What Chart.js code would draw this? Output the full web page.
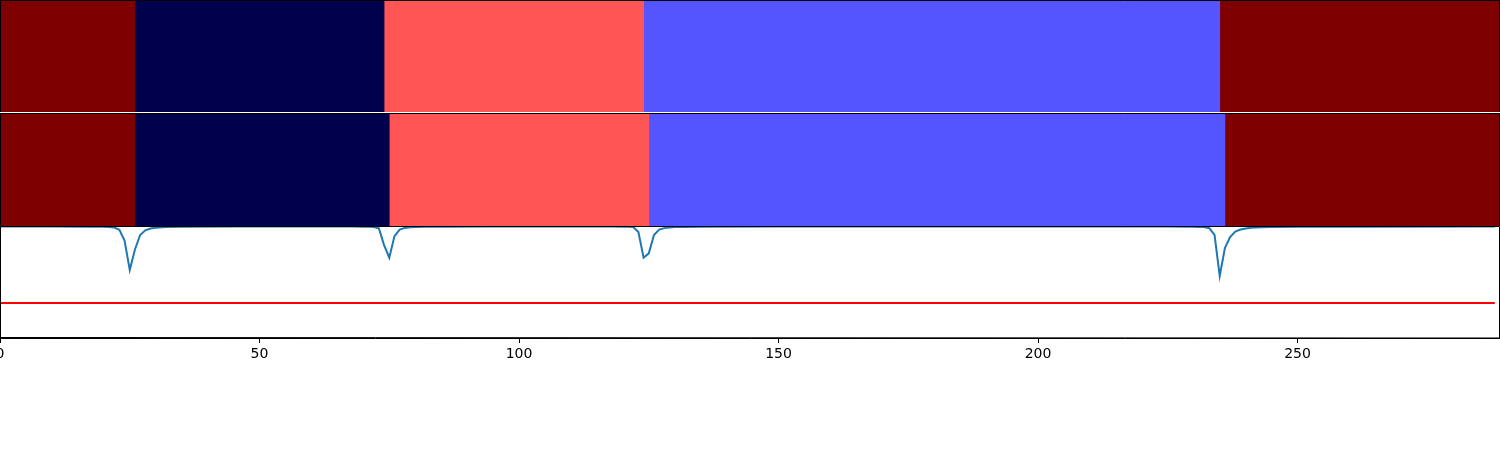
<!DOCTYPE html>
<html>
<head>
<meta charset="utf-8">
<script src="https://cdn.jsdelivr.net/npm/chart.js@4/dist/chart.umd.min.js"></script>
<style>
  html, body { margin:0; padding:0; background:#fff; overflow:hidden; }
  body { width:1500px; height:450px; position:relative; }
  .p { position:absolute; }
  canvas { display:block; }
</style>
</head>
<body>
<div class="p" style="left:0;top:0;width:1500px;height:112px"><canvas id="c1" width="1500" height="112"></canvas></div>
<div class="p" style="left:0;top:113px;width:1500px;height:113px"><canvas id="c2" width="1500" height="113"></canvas></div>
<div class="p" style="left:-50px;top:226px;width:1600px;height:224px"><canvas id="c3" width="1600" height="224"></canvas></div>
<script>
// ---- data ----
const xMax = 289;
const bkpsTrue = [0, 26, 74, 124, 235, 289];
const bkpsPred = [0, 26, 75, 125, 236, 289];
const segColors = ['#7f0000', '#00004c', '#ff5555', '#5555ff', '#7f0000'];

const scoreX = [0, 10, 18, 20, 21, 22, 23, 24, 25, 26, 27, 28, 29, 30, 32, 35, 45,
  60, 68, 70, 71, 72, 73, 74, 75, 76, 77, 78, 79, 80, 82, 85, 95,
  110, 118, 120, 121, 122, 123, 124, 125, 126, 127, 128, 129, 130, 132, 135, 150,
  200, 225, 229, 230, 231, 232, 233, 234, 235, 236, 237, 238, 239, 240, 241, 242, 243, 245, 250, 260, 288];
const scoreY = [0.995, 0.995, 0.994, 0.993, 0.992, 0.987, 0.966, 0.870, 0.607, 0.790, 0.920, 0.962, 0.978, 0.985, 0.990, 0.993, 0.995,
  0.996, 0.995, 0.994, 0.993, 0.991, 0.979, 0.830, 0.717, 0.910, 0.968, 0.983, 0.988, 0.991, 0.993, 0.994, 0.995,
  0.996, 0.995, 0.994, 0.993, 0.991, 0.946, 0.717, 0.756, 0.920, 0.968, 0.981, 0.987, 0.990, 0.992, 0.994, 0.995,
  0.996, 0.995, 0.994, 0.993, 0.992, 0.990, 0.980, 0.920, 0.554, 0.804, 0.902, 0.951, 0.969, 0.978, 0.984, 0.987, 0.989, 0.991, 0.993, 0.994, 0.995];
const threshX = [0, 288];
const threshY = [0.3125, 0.3125];
const tickValues = [0, 50, 100, 150, 200, 250];
const tickLabels = ['0', '50', '100', '150', '200', '250'];

// ---- helpers ----
Chart.defaults.font.family = '"DejaVu Sans", sans-serif';
Chart.defaults.color = '#000';

function makeFrame(drawBottom) {
  return {
    id: 'frame',
    afterDraw(chart) {
      const a = chart.chartArea, ctx = chart.ctx;
      ctx.save();
      ctx.strokeStyle = '#000';
      ctx.lineWidth = 1;
      ctx.beginPath();
      ctx.moveTo(a.left + 0.5, a.bottom);
      ctx.lineTo(a.left + 0.5, a.top + 0.5);
      ctx.lineTo(a.right - 0.5, a.top + 0.5);
      ctx.lineTo(a.right - 0.5, a.bottom);
      if (drawBottom) ctx.lineTo(a.left + 0.5, a.bottom - 0.5);
      ctx.stroke();
      ctx.restore();
    }
  };
}

function segChart(id, bkps) {
  const datasets = [];
  for (let i = 0; i < bkps.length - 1; i++) {
    datasets.push({
      data: [[bkps[i], bkps[i + 1]]],
      backgroundColor: segColors[i],
      borderWidth: 0,
      barPercentage: 1,
      categoryPercentage: 1,
      grouped: false
    });
  }
  new Chart(document.getElementById(id), {
    type: 'bar',
    data: { labels: ['s'], datasets },
    options: {
      indexAxis: 'y',
      responsive: false,
      animation: false,
      layout: { padding: 0 },
      plugins: { legend: { display: false }, tooltip: { enabled: false } },
      scales: {
        x: { type: 'linear', min: 0, max: xMax, display: false },
        y: { display: false }
      }
    },
    plugins: [makeFrame(false)]
  });
}

segChart('c1', bkpsTrue);
segChart('c2', bkpsPred);

new Chart(document.getElementById('c3'), {
  type: 'scatter',
  data: {
    datasets: [
      {
        data: scoreX.map((x, i) => ({ x, y: scoreY[i] })),
        showLine: true, borderColor: '#1f77b4', borderWidth: 2,
        pointRadius: 0, tension: 0, clip: false
      },
      {
        data: threshX.map((x, i) => ({ x, y: threshY[i] })),
        showLine: true, borderColor: '#ff0000', borderWidth: 2,
        pointRadius: 0, tension: 0, clip: false
      }
    ]
  },
  options: {
    responsive: false,
    animation: false,
    layout: { padding: { left: 50, right: 50, top: 0, bottom: 0 } },
    plugins: { legend: { display: false }, tooltip: { enabled: false } },
    scales: {
      x: {
        type: 'linear', min: 0, max: xMax,
        afterBuildTicks(scale) { scale.ticks = tickValues.map(v => ({ value: v })); },
        afterFit(scale) { scale.height = 112; },
        ticks: {
          autoSkip: false, maxRotation: 0, padding: 3,
          font: { size: 14 }, color: '#000',
          callback(v) { const i = tickValues.indexOf(v); return i >= 0 ? tickLabels[i] : ''; }
        },
        grid: { display: true, drawOnChartArea: false, drawTicks: true, tickLength: 5, color: '#000', tickColor: '#000' },
        border: { display: true, color: '#000', width: 1 }
      },
      y: { min: 0, max: 1, display: false }
    }
  },
  plugins: [makeFrame(true)]
});
</script>
</body>
</html>
